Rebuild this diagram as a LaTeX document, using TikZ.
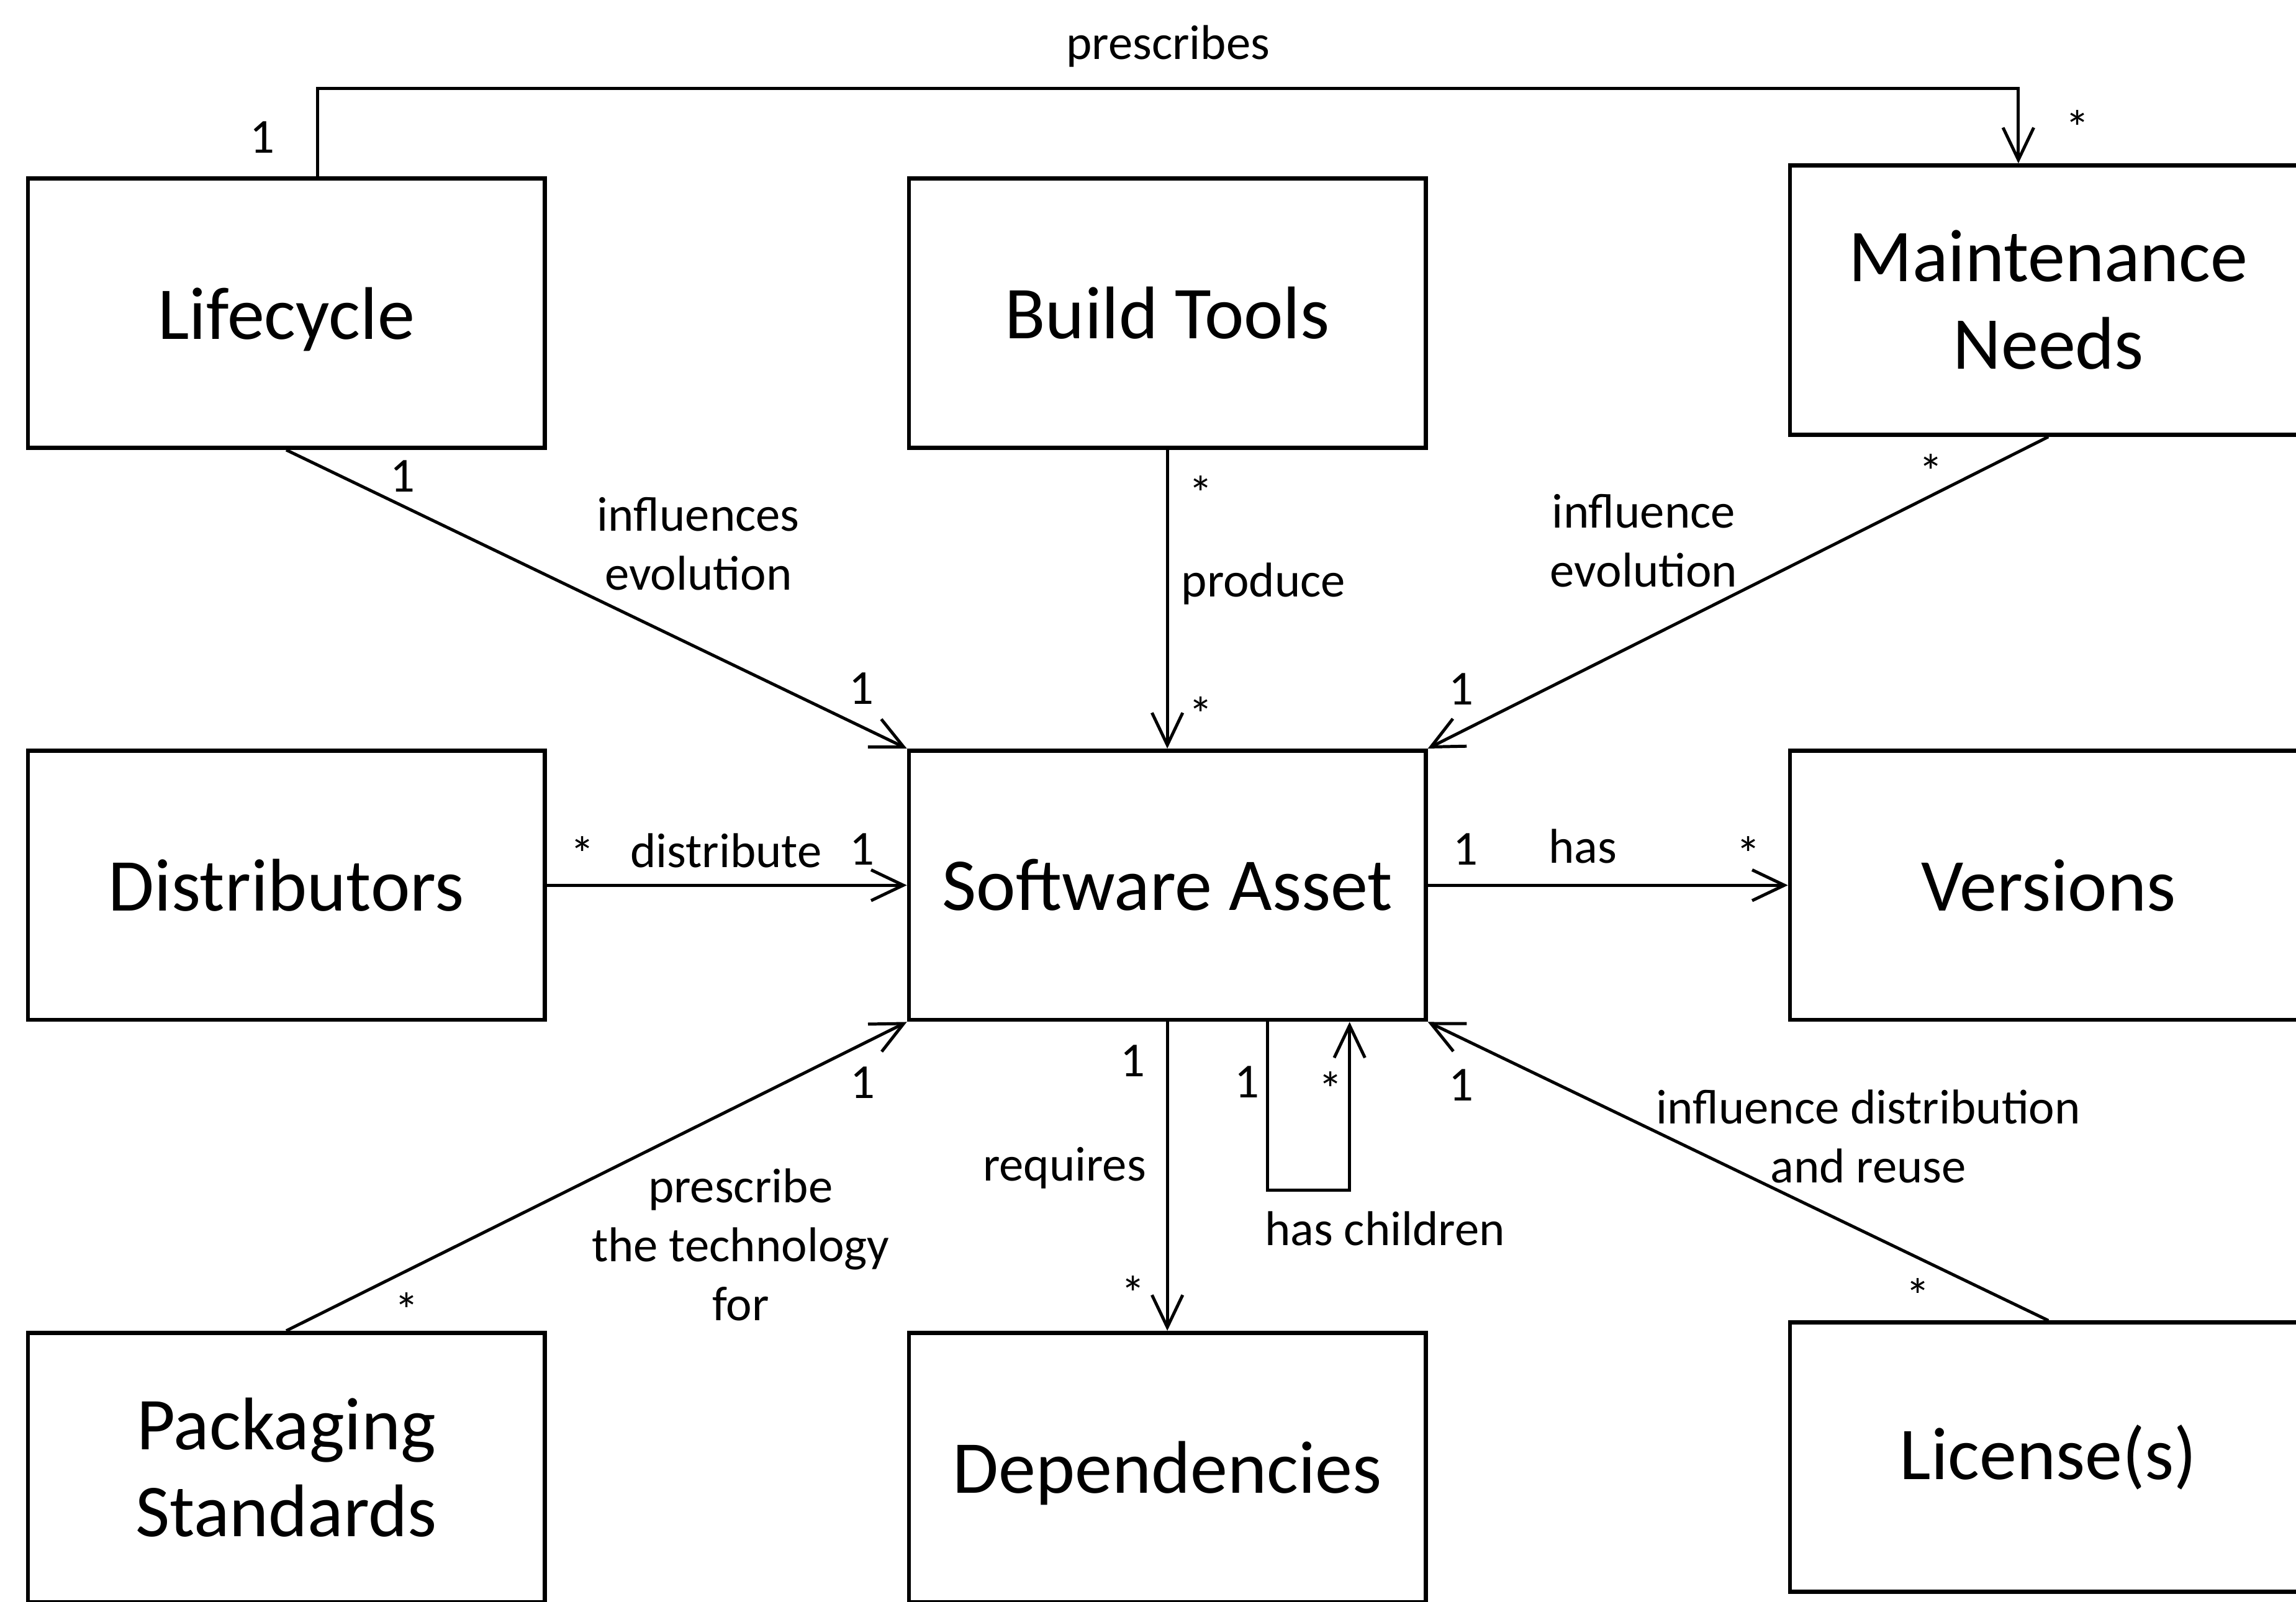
\documentclass[tikz,border=0pt]{standalone}
\usepackage{fontspec}
\setmainfont{Carlito}
\usetikzlibrary{arrows.meta, positioning}

\begin{document}
\begin{tikzpicture}[
  x=0.02cm, y=-0.02cm,
  box/.style = {
    draw, line width=1.6pt, fill=white,
    minimum width=7.06cm, minimum height=3.68cm,
    align=center, font=\fontsize{29}{34}\selectfont
  },
  lbl/.style = { font=\fontsize{19}{23}\selectfont, align=center, inner sep=2pt },
  arr/.style = { -{Straight Barb[length=0.44cm, width=0.42cm]}, line width=1.2pt }
]
\clip (0,0) rectangle (1568,1094);

% boxes
\node[box, text depth=0pt] (lifecycle) at (195.5,214) {Lifecycle};
\node[box, right=4.92cm of lifecycle] (build) {Build Tools};
\node[box, right=4.92cm of build, yshift=0.18cm] (maint) {Maintenance\\Needs};
\node[box, below=4.08cm of lifecycle] (distrib) {Distributors};
\node[box, right=4.92cm of distrib] (asset) {Software Asset};
\node[box, right=4.92cm of asset] (versions) {Versions};
\node[box, below=4.22cm of distrib] (packaging) {Packaging\\Standards};
\node[box, right=4.92cm of packaging, text depth=0pt] (deps) {Dependencies};
\node[box, right=4.92cm of deps, yshift=0.14cm] (license) {License(s)};

% top row
\draw[arr] ([xshift=0.43cm]lifecycle.north)
  -- node[lbl, pos=0.45, left=0.5cm] (m1) {1} ++(0,1.2cm)
  -| node[lbl, pos=0.25, above=0.2cm] (tPrescribes) {prescribes}
     node[lbl, pos=0.76, right=0.55cm] (m2) {*}
  ([xshift=-0.41cm]maint.north);
\draw[arr] (lifecycle.south)
  -- node[lbl, pos=0.187, above=0.1cm] (m3) {1}
     node[lbl, pos=0.664, above=0.7cm] (tInfl) {influences\\evolution}
     node[lbl, pos=0.927, above=0.22cm] (m4) {1}
  (asset.north west);
\draw[arr] (build.south)
  -- node[lbl, pos=0.145, right=0.2cm] (m5) {*}
     node[lbl, pos=0.449, right=0.1cm] (tProduce) {produce}
     node[lbl, pos=0.884, right=0.2cm] (m6) {*}
  (asset.north);
\draw[arr] (maint.south)
  -- node[lbl, pos=0.189, above] (m7) {*}
     node[lbl, pos=0.652, above=0.63cm] (tInfl2) {influence\\evolution}
     node[lbl, pos=0.946, above=0.28cm] (m8) {1}
  (asset.north east);

% middle row
\draw[arr] (distrib.east)
  -- node[lbl, pos=0.1, above=0.1cm] (m9) {*}
     node[lbl, pos=0.498, above=0.15cm] (tDistr) {distribute}
     node[lbl, pos=0.876, above=0.19cm] (m10) {1}
  (asset.west);
\draw[arr] (asset.east)
  -- node[lbl, pos=0.104, above=0.19cm] (m11) {1}
     node[lbl, pos=0.43, above=0.21cm] (tHas) {has}
     node[lbl, pos=0.89, above=0.1cm] (m12) {*}
  (versions.west);

% bottom row
\draw[arr] (packaging.north)
  -- node[lbl, pos=0.194, below=0.21cm] (m13) {*}
     node[lbl, pos=0.732, below=0.78cm] (tPrescr) {prescribe\\the technology\\for}
     node[lbl, pos=0.929, below=0.22cm] (m14) {1}
  (asset.south west);
\draw[arr] (asset.south)
  -- node[lbl, pos=0.126, left=0.21cm] (m15) {1}
     node[lbl, pos=0.472, left=0.2cm] (tReq) {requires}
     node[lbl, pos=0.878, left=0.21cm] (m16) {*}
  (deps.north);
\draw[arr] (license.north)
  -- node[lbl, pos=0.21, below=0.19cm] (m17) {*}
     node[lbl, pos=0.29, above=0.6cm] (tLic) {influence distribution\\and reuse}
     node[lbl, pos=0.946, below=0.34cm] (m18) {1}
  (asset.south east);

% self loop
\draw[arr] ([xshift=1.37cm]asset.south)
  -- node[lbl, pos=0.357, left=0.02cm] (m19) {1} ++(0,-2.3cm)
     node[lbl, anchor=north west, xshift=-0.13cm, yshift=-0.2cm] (tChildren) {has children}
  -| node[lbl, pos=0.8, left=0pt] (m20) {*}
  ([xshift=2.49cm]asset.south);

\end{tikzpicture}
\end{document}
